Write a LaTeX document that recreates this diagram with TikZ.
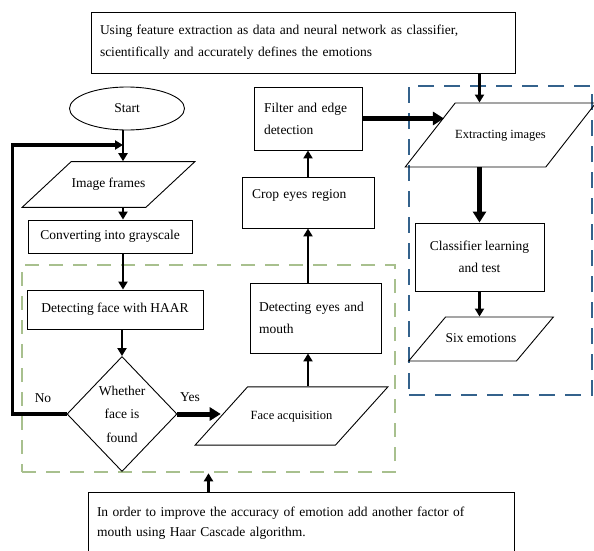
\documentclass[tikz,border=0pt]{standalone}
\usepackage{fontspec}
\setmainfont{Liberation Serif}
\usepackage{tikz}
\usetikzlibrary{shapes.geometric, arrows.meta, positioning}
\usepackage{xcolor}
\definecolor{regionblue}{RGB}{52,98,140}
\definecolor{regiongreen}{RGB}{168,192,142}

\begin{document}
\begin{tikzpicture}[x=1pt, y=-1pt,
  process/.style={rectangle, draw, line width=0.9pt, font=\fontsize{13.5}{22}\selectfont, align=left, inner xsep=9pt},
  iobox/.style={trapezium, trapezium left angle=#1, trapezium right angle=180-#1, draw, line width=0.9pt, font=\fontsize{13.5}{22}\selectfont, text height=9pt, text depth=3pt, inner xsep=0pt},
  terminal/.style={ellipse, draw, line width=0.9pt, minimum width=115pt, minimum height=43pt, font=\fontsize{13.5}{22}\selectfont},
  decision/.style={diamond, draw, line width=0.9pt, minimum width=110pt, minimum height=115pt, inner sep=0pt, align=center, font=\fontsize{13.5}{23.5}\selectfont},
  region/.style={rectangle, line width=2.6pt, inner sep=0pt},
  tag/.style={font=\fontsize{13.5}{22}\selectfont},
  flow/.style={-{Triangle[length=8pt, width=9pt]}, line width=2.4pt},
  bigflow/.style={-{Triangle[length=11pt, width=13pt]}, line width=5pt}
]
\useasboundingbox (0,0) rectangle (594,551);

% dashed groups
\node[region, draw=regiongreen, dash pattern=on 14pt off 10pt, minimum width=373pt, minimum height=207pt] (faceregion) at (208.5,368.5) {};
\node[region, draw=regionblue, dash pattern=on 16pt off 10pt, minimum width=183pt, minimum height=309pt] (emoregion) at (500.5,240.5) {};

% notes
\node[process, minimum width=424pt, minimum height=61pt, text width=406pt] (aim) at (303,42.5) {Using feature extraction as data and neural network as classifier,\\scientifically and accurately defines the emotions};
\node[process, minimum width=426pt, minimum height=62pt, text width=408pt, font=\fontsize{13.5}{20}\selectfont] (note) at (301,523) {In order to improve the accuracy of emotion add another factor of\\mouth using Haar Cascade algorithm.};

% left column
\node[terminal] (start) at (127,108.5) {Start};
\node[iobox=43, inner ysep=16.5pt, minimum width=173pt] (frames) at (108.5,184.5) {Image frames};
\node[process, minimum width=164pt, minimum height=33pt, align=center] (gray) at (110,236.5) {Converting into grayscale};
\node[process, minimum width=176pt, minimum height=39pt, align=center] (haar) at (115,309.5) {Detecting face with HAAR};
\node[decision] (found) at (122,414) {Whether\\face is\\found};
\node[tag] (no) at (43,398) {No};
\node[tag] (yes) at (190,397) {Yes};

% middle column
\node[iobox=48, inner ysep=21pt, minimum width=193pt, font=\fontsize{12.5}{20}\selectfont] (acq) at (291.5,416) {Face acquisition};
\node[process, minimum width=131pt, minimum height=70pt, text width=113pt] (eyes) at (315.5,318) {Detecting eyes and\\mouth};
\node[process, minimum width=132pt, minimum height=51pt, text width=112pt, text height=10pt, text depth=19pt, inner xsep=10pt] (crop) at (308,202.5) {Crop eyes region};
\node[process, minimum width=108pt, minimum height=63pt, text width=88pt, inner xsep=10pt] (filter) at (308,118.5) {Filter and edge\\detection};

% right column
\node[iobox=52, inner ysep=26pt, minimum width=185pt, font=\fontsize{12.5}{20}\selectfont] (extract) at (500.5,135) {Extracting images};
\node[process, minimum width=129pt, minimum height=68pt, align=center] (learn) at (479.5,257) {Classifier learning\\and test};
\node[iobox=50, inner ysep=16pt, minimum width=142pt] (six) at (481,339) {Six emotions};

% connectors
\coordinate (join) at (123,145);
\draw[flow] (start.south -| join) -- (frames.north -| join);
\draw[flow] (frames.south -| join) -- (gray.north -| join);
\draw[flow] (gray.south -| join) -- (haar.north -| join);
\draw[flow] (haar.south -| found) -- (found.north);
\draw[flow, line width=3.4pt] (found.west) -- ++(-54,0) |- (join);
\draw[bigflow] (found.east) -- (found.east -| acq.west);
\draw[flow] (acq.north -| crop) -- (eyes.south -| crop);
\draw[flow] (eyes.north -| crop) -- (crop.south);
\draw[flow] (crop.north) -- (filter.south);
\draw[bigflow] (filter.east) -- (filter.east -| extract.162.5);
\draw[flow] (aim.south -| learn) -- (extract.north -| learn);
\draw[bigflow] (extract.south -| learn) -- (learn.north);
\draw[flow] (learn.south) -- (learn.south |- six.north);
\draw[flow] (note.north -| faceregion.south) -- (faceregion.south);
\end{tikzpicture}
\end{document}
